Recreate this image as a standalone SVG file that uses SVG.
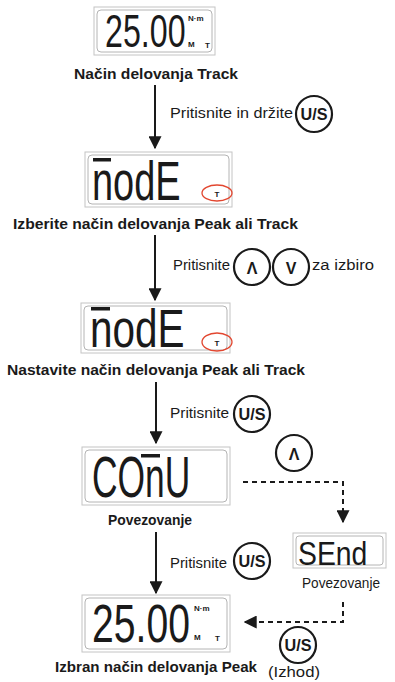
<svg xmlns="http://www.w3.org/2000/svg" width="395" height="682" viewBox="0 0 395 682">
<defs>
<style>
.frame{fill:#fff;stroke:#c4c4c4;stroke-width:1}
.inner{fill:none;stroke:#b4b4b4;stroke-width:1}
.lcd{font-family:"Liberation Sans","DejaVu Sans",sans-serif;fill:#1a1a1a}
.small{font-family:"Liberation Sans",sans-serif;font-weight:bold;fill:#1a1a1a;font-size:8px}
.lbl{font-family:"Liberation Sans","DejaVu Sans",sans-serif;font-weight:bold;font-size:15.5px;fill:#1a1a1a}
.txt{font-family:"Liberation Sans","DejaVu Sans",sans-serif;font-size:15.5px;fill:#1a1a1a}
.btn{fill:#fff;stroke:#1a1a1a;stroke-width:2.2}
.btxt{font-family:"Liberation Sans","DejaVu Sans",sans-serif;font-weight:bold;font-size:16px;fill:#1a1a1a;text-anchor:middle}
.red{fill:none;stroke:#e2462f;stroke-width:1.3}
.bar{fill:#1a1a1a}
.solid{stroke:#1a1a1a;stroke-width:2;fill:none}
.dash{stroke:#1a1a1a;stroke-width:2;fill:none;stroke-dasharray:5 4}
</style>
<marker id="ah" viewBox="0 0 10 10" refX="9" refY="5" markerWidth="6.5" markerHeight="6.5" markerUnits="strokeWidth" orient="auto">
<path d="M0,0 L10,5 L0,10 z" fill="#1a1a1a"/>
</marker>
</defs>

<g id="connectors">
<line class="solid" x1="155" y1="85" x2="155" y2="148" marker-end="url(#ah)"/>
<line class="solid" x1="155" y1="235" x2="155" y2="300" marker-end="url(#ah)"/>
<line class="solid" x1="156" y1="382" x2="156" y2="443" marker-end="url(#ah)"/>
<line class="solid" x1="156" y1="532" x2="156" y2="593" marker-end="url(#ah)"/>
<polyline class="dash" points="243,482 343,482 343,522" marker-end="url(#ah)"/>
<polyline class="dash" points="343,602 343,622 245,622" marker-end="url(#ah)"/>
</g>

<g id="display-track">
<rect class="frame" x="94" y="7" width="121" height="48"/>
<rect class="inner" x="97" y="10" width="115" height="42" rx="4"/>
<text class="lcd" font-size="46" transform="translate(105,47) scale(0.70,1)">25.00</text>
<text class="small" x="188" y="21">N·m</text>
<text class="small" x="188" y="47">M</text>
<text class="small" x="205" y="48">T</text>
<text class="lbl" x="74" y="79" textLength="164" lengthAdjust="spacingAndGlyphs">Način delovanja Track</text>
</g>

<g id="step-hold">
<text class="txt" x="170" y="118" textLength="123" lengthAdjust="spacingAndGlyphs">Pritisnite in držite</text>
<circle class="btn" cx="314" cy="114" r="18"/>
<text class="btxt" x="314" y="120" textLength="27" lengthAdjust="spacingAndGlyphs">U/S</text>
</g>

<g id="display-mode1">
<rect class="frame" x="85" y="152" width="147" height="55"/>
<rect class="inner" x="88" y="155" width="141" height="49" rx="4"/>
<rect class="bar" x="93" y="158" width="18" height="3.5"/>
<text class="lcd" font-size="55" transform="translate(92,200) scale(0.69,1)">nodE</text>
<text class="small" x="217" y="197" text-anchor="middle" font-size="7">T</text>
<ellipse class="red" cx="217" cy="193" rx="15" ry="8"/>
<text class="lbl" x="13" y="229" textLength="285" lengthAdjust="spacingAndGlyphs">Izberite način delovanja Peak ali Track</text>
</g>

<g id="step-select">
<text class="txt" x="173" y="270" textLength="57" lengthAdjust="spacingAndGlyphs">Pritisnite</text>
<circle class="btn" cx="252" cy="267" r="18"/>
<text class="btxt" x="252" y="274" font-size="18">Λ</text>
<circle class="btn" cx="291" cy="267" r="18"/>
<text class="btxt" x="291" y="274" font-size="18">V</text>
<text class="txt" x="312" y="270" textLength="62" lengthAdjust="spacingAndGlyphs">za izbiro</text>
</g>

<g id="display-mode2">
<rect class="frame" x="81" y="303" width="149" height="50"/>
<rect class="inner" x="84" y="306" width="143" height="44" rx="4"/>
<rect class="bar" x="91" y="307" width="19" height="3.5"/>
<text class="lcd" font-size="54" transform="translate(90,347) scale(0.75,1)">nodE</text>
<text class="small" x="217" y="346" text-anchor="middle" font-size="7">T</text>
<ellipse class="red" cx="217" cy="342" rx="15" ry="9"/>
<text class="lbl" x="7" y="375" textLength="298" lengthAdjust="spacingAndGlyphs">Nastavite način delovanja Peak ali Track</text>
</g>

<g id="step-confirm">
<text class="txt" x="170" y="418" textLength="59" lengthAdjust="spacingAndGlyphs">Pritisnite</text>
<circle class="btn" cx="252" cy="414" r="18"/>
<text class="btxt" x="252" y="420" textLength="27" lengthAdjust="spacingAndGlyphs">U/S</text>
</g>

<g id="display-conn">
<rect class="frame" x="82" y="447" width="148" height="58"/>
<rect class="inner" x="85" y="450" width="142" height="52" rx="4"/>
<rect class="bar" x="141" y="454" width="19" height="3.5"/>
<text class="lcd" font-size="58" transform="translate(92,497) scale(0.61,1)">COnU</text>
<text class="lbl" x="108" y="525" textLength="84" lengthAdjust="spacingAndGlyphs">Povezovanje</text>
</g>

<g id="btn-up">
<circle class="btn" cx="294" cy="453" r="18"/>
<text class="btxt" x="294" y="460" font-size="18">Λ</text>
</g>

<g id="display-send">
<rect class="frame" x="293" y="533" width="93" height="35"/>
<rect class="inner" x="296" y="536" width="87" height="29" rx="3"/>
<text class="lcd" font-size="33" transform="translate(298,565) scale(0.86,1)">SEnd</text>
<text class="txt" x="302" y="588" textLength="78" lengthAdjust="spacingAndGlyphs">Povezovanje</text>
</g>

<g id="step-conn">
<text class="txt" x="170" y="568" textLength="57" lengthAdjust="spacingAndGlyphs">Pritisnite</text>
<circle class="btn" cx="252" cy="561" r="18"/>
<text class="btxt" x="252" y="567" textLength="27" lengthAdjust="spacingAndGlyphs">U/S</text>
</g>

<g id="display-peak">
<rect class="frame" x="82" y="595" width="148" height="57"/>
<rect class="inner" x="85" y="598" width="142" height="51" rx="4"/>
<text class="lcd" font-size="54" transform="translate(92,642) scale(0.725,1)">25.00</text>
<text class="small" x="194" y="611">N·m</text>
<text class="small" x="194" y="640">M</text>
<text class="small" x="215" y="641">T</text>
<text class="lbl" x="55" y="672" textLength="202" lengthAdjust="spacingAndGlyphs">Izbran način delovanja Peak</text>
</g>

<g id="btn-exit">
<circle class="btn" cx="298" cy="645" r="18"/>
<text class="btxt" x="298" y="651" textLength="27" lengthAdjust="spacingAndGlyphs">U/S</text>
<text class="txt" x="268" y="677" textLength="52" lengthAdjust="spacingAndGlyphs">(Izhod)</text>
</g>
</svg>
